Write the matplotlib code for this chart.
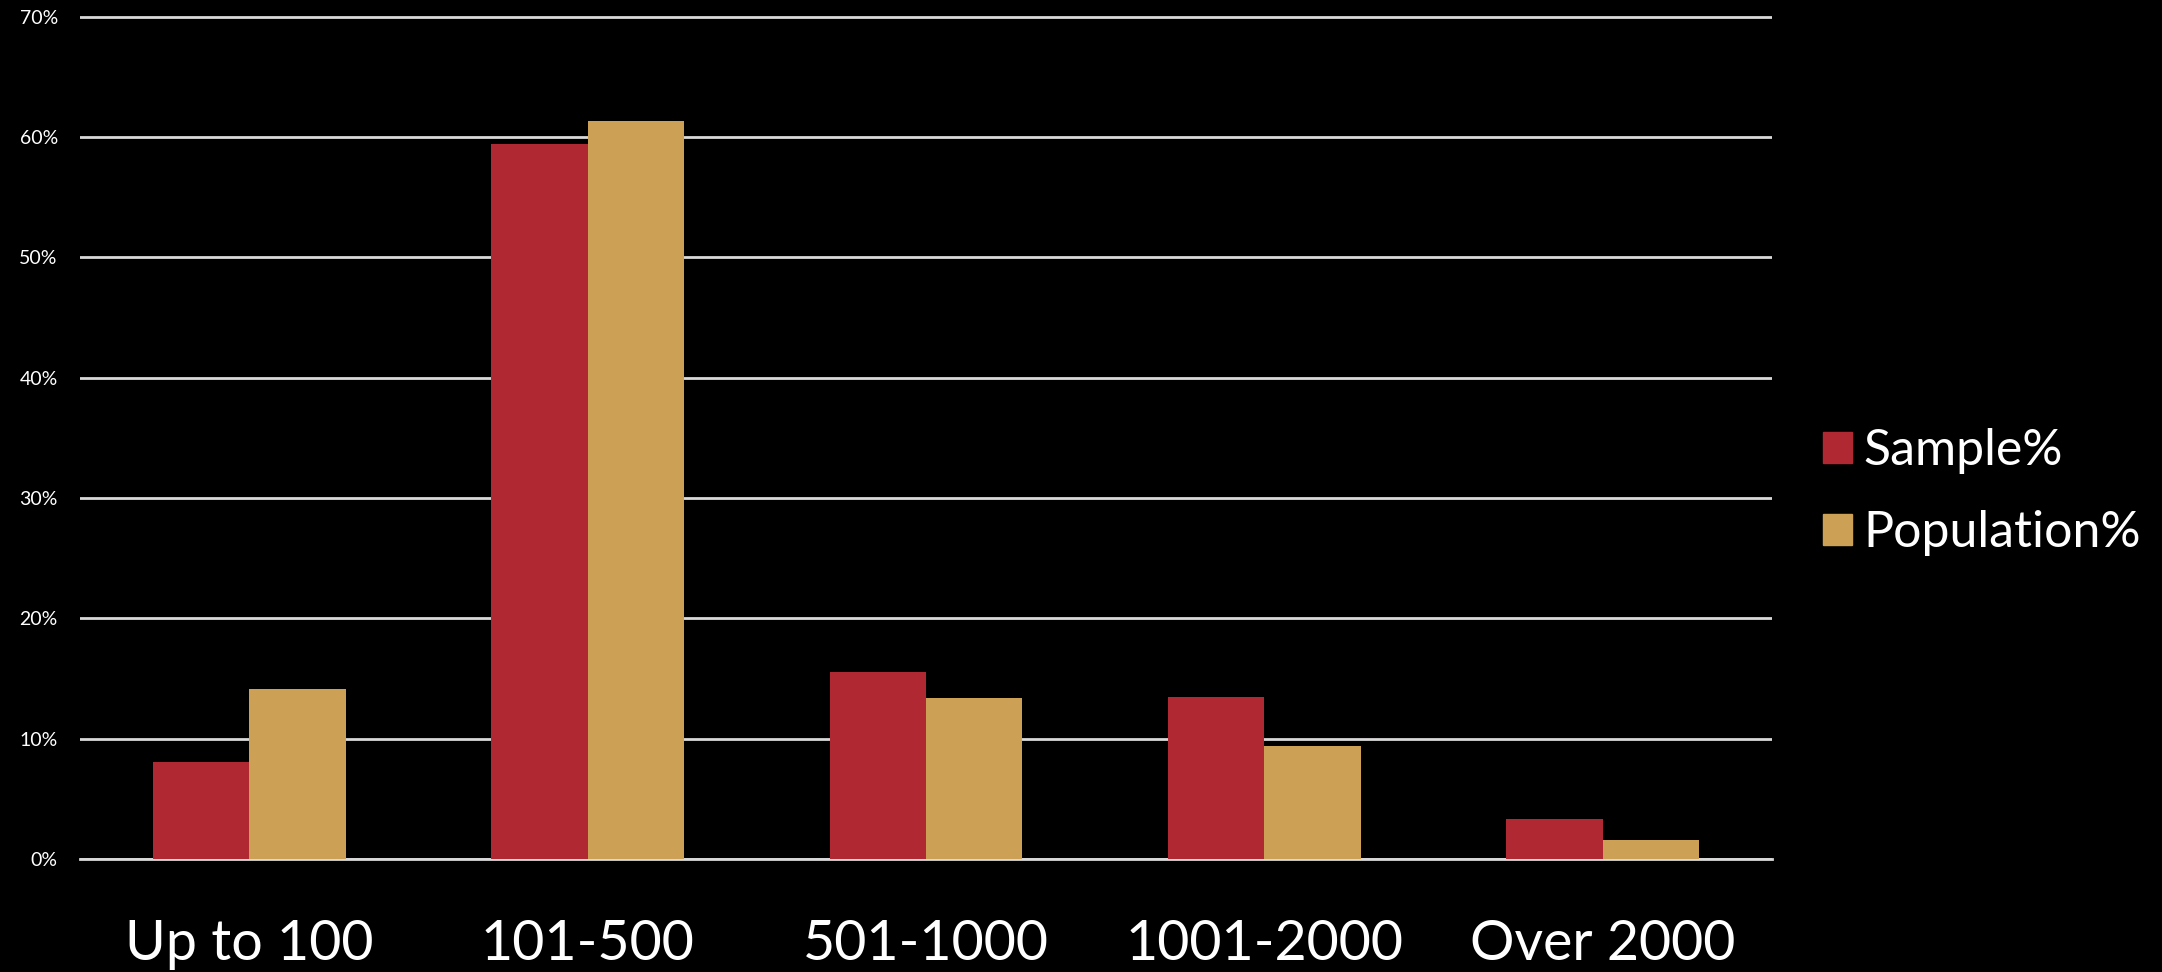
import matplotlib
matplotlib.use("Agg")
import matplotlib.pyplot as plt
from matplotlib.patches import Patch
from matplotlib.ticker import FuncFormatter
import numpy as np

categories = ["Up to 100", "101-500", "501-1000", "1001-2000", "Over 2000"]
sample_pct = [8.1, 59.4, 15.5, 13.5, 3.35]
population_pct = [14.1, 61.3, 13.4, 9.4, 1.6]
series_names = ["Sample%", "Population%"]
y_ticks = [0, 10, 20, 30, 40, 50, 60, 70]

RED = "#B02832"
GOLD = "#CCA055"
GRID = "#D9D9D9"

plt.rcParams["font.family"] = ["Lato", "DejaVu Sans"]

W, H = 2162, 972
fig = plt.figure(figsize=(W / 100, H / 100), dpi=100, facecolor="black")
ax = fig.add_axes([80 / W, (H - 859) / H, (1772 - 80) / W, (859 - 16.5) / H])
ax.set_facecolor("black")

x = np.arange(len(categories))
width = 0.285
ax.bar(x - width / 2, sample_pct, width, color=RED, zorder=3)
ax.bar(x + width / 2, population_pct, width, color=GOLD, zorder=3)
ax.axhline(0, color=GRID, linewidth=2, clip_on=False, zorder=2)

ax.set_xlim(-0.5, len(categories) - 0.5)
ax.set_ylim(0, 70)
ax.set_yticks(y_ticks)
ax.yaxis.set_major_formatter(FuncFormatter(lambda v, _: f"{v:.0f}%"))
ax.grid(axis="y", color=GRID, linewidth=2, zorder=1)
ax.set_xticks(x)
ax.set_xticklabels(categories, fontsize=40, color="white")
ax.tick_params(axis="x", length=0, pad=43)
ax.tick_params(axis="y", length=0, pad=16, labelsize=14, labelcolor="white")
for spine in ax.spines.values():
    spine.set_visible(False)

handles = [Patch(color=RED), Patch(color=GOLD)]
leg = fig.legend(handles, series_names, loc="center left",
                 bbox_to_anchor=(1778 / W, 1 - 492 / H), frameon=False,
                 fontsize=36, labelcolor="white", handlelength=0.58,
                 handleheight=0.58, handletextpad=0.22, labelspacing=0.72)

fig.savefig("out.png", dpi=100, facecolor="black")
